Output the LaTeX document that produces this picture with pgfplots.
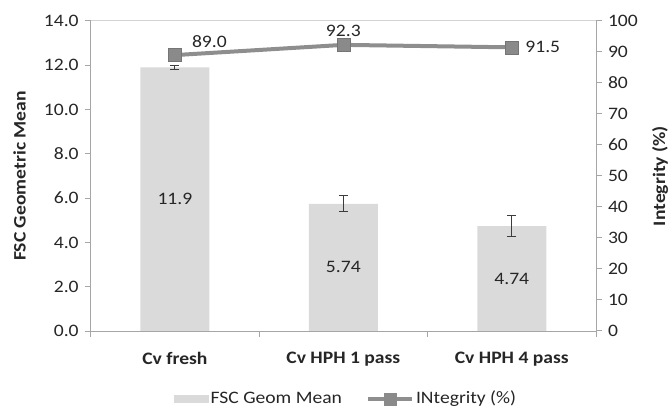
\documentclass[border=0pt]{standalone}
\usepackage{fontspec}
\setmainfont{Carlito}[FakeStretch=1.12]
\usepackage{pgfplots}
\pgfplotsset{compat=1.18}

\definecolor{bargray}{HTML}{DADADB}
\definecolor{linegray}{HTML}{8E8E8E}
\definecolor{markgray}{HTML}{8A8A8A}
\definecolor{axisgray}{HTML}{A6A6A6}
\definecolor{txt}{HTML}{262626}

\pgfplotsset{
  common/.style={
    scale only axis, width=505.3bp, height=310bp,
    at={(90.7bp,77bp)}, anchor=south west,
    xmin=-0.5, xmax=2.5,
    tick align=outside,
    major tick length=6bp,
    axis line style={draw=axisgray, line width=1bp},
    every tick/.style={draw=axisgray, line width=1bp},
    tick label style={text=txt},
    label style={text=txt, font=\bfseries},
    /pgf/number format/assume math mode=true,
  }
}

\begin{document}
\fontsize{17.5bp}{21bp}\selectfont
\begin{tikzpicture}
\useasboundingbox (0,0) rectangle (672bp,408bp);

% bars: FSC geometric mean (left axis)
\begin{axis}[common,
  ymin=0, ymax=14, ytick={0,2,...,14},
  axis x line*=bottom, axis y line*=left,
  xtick={0,1,2},
  xticklabels={Cv fresh, Cv HPH 1 pass, Cv HPH 4 pass},
  x tick label style={font=\bfseries, yshift=-9bp},
  every major x tick/.append style={draw=none},
  minor xtick={-0.5,0.5,1.5,2.5},
  minor tick length=6bp,
  yticklabel style={/pgf/number format/.cd, fixed, fixed zerofill, precision=1},
  ylabel={FSC Geometric Mean},
  ylabel style={at={(axis description cs:-0.141,0.5)}, anchor=center},
  legend style={at={(axis description cs:0.505,-0.219)}, anchor=center,
    draw=none, fill=none, text=txt, legend columns=2,
    /tikz/every even column/.append style={column sep=22bp}},
]
\addplot[ybar, bar width=0.41, fill=bargray, draw=none,
  legend image code/.code={\fill[bargray] (0bp,-4bp) rectangle (35bp,4bp);},
  error bars/.cd, y dir=both, y explicit,
  error bar style={draw=txt!90, line width=1bp},
  error mark options={draw=txt!90, line width=1bp, mark size=4.5bp, rotate=90}]
  coordinates {(0,11.9) +- (0,0.09) (1,5.74) +- (0,0.36) (2,4.74) +- (0,0.49)};
\addlegendentry{FSC Geom Mean}
\addlegendimage{legend image code/.code={
  \draw[linegray, line width=4bp] (0bp,0bp) -- (44bp,0bp);
  \fill[markgray] (16bp,-6bp) rectangle (28bp,6bp);}}
\addlegendentry{INtegrity (\%)}
\node[text=txt] at (axis cs:0,5.95) {11.9};
\node[text=txt] at (axis cs:1,2.87) {5.74};
\node[text=txt] at (axis cs:2,2.37) {4.74};
\end{axis}

% line: integrity (right axis)
\begin{axis}[common,
  ymin=0, ymax=100, ytick={0,10,...,100},
  axis y line*=right, axis x line=none,
  ylabel={Integrity (\%)},
  ylabel style={at={(axis description cs:1.127,0.5)}, anchor=center, rotate=0},
  clip=false,
]
\draw[axisgray!50, line width=1bp] (rel axis cs:0,1) -- (rel axis cs:1,1);
\addplot[linegray, line width=4bp, mark=square*, mark size=6.5bp,
  mark options={fill=markgray, draw=markgray!85!black, line width=0.6bp}]
  coordinates {(0,89.0) (1,92.3) (2,91.5)};
\node[text=txt, xshift=34.5bp, yshift=13.5bp] at (axis cs:0,89.0) {89.0};
\node[text=txt, yshift=14bp] at (axis cs:1,92.3) {92.3};
\node[text=txt, xshift=31bp] at (axis cs:2,91.5) {91.5};
\end{axis}
\end{tikzpicture}
\end{document}
